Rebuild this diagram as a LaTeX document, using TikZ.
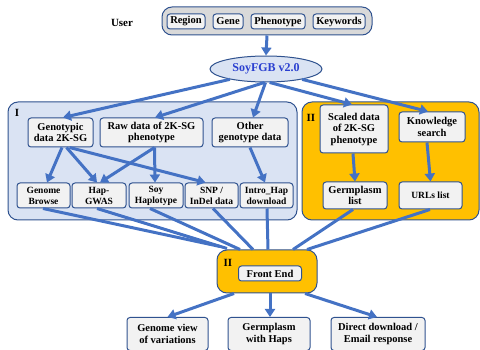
\documentclass[tikz,border=0pt]{standalone}
\usepackage{fontspec}
\setmainfont{Liberation Serif}
\usetikzlibrary{arrows.meta,shapes.geometric}
\definecolor{lblue}{HTML}{4472C4}
\definecolor{dblue}{HTML}{2F528F}
\definecolor{cfill}{HTML}{DAE3F3}
\definecolor{ofill}{HTML}{FFC000}
\definecolor{bfill}{HTML}{F2F2F2}
\definecolor{gfill}{HTML}{D9D9D9}
\definecolor{soyblue}{HTML}{2A3FD0}
\tikzset{
  container/.style={draw=dblue, line width=1pt, rounded corners=10pt, inner sep=0pt},
  box/.style={draw=dblue, fill=bfill, line width=1pt, rounded corners=3pt, align=center, inner sep=0pt,
    font=\fontsize{10.5}{11.5}\selectfont\bfseries},
  smallbox/.style={box, font=\fontsize{9.5}{11}\selectfont\bfseries},
  conn/.style={draw=lblue, line width=3pt},
  arr/.style={conn, -{Triangle[length=8pt,width=10pt]}},
  lbl/.style={inner sep=0pt, font=\fontsize{11}{12}\selectfont\bfseries}
}
\begin{document}
\begin{tikzpicture}[x=1pt,y=-1pt]
\useasboundingbox (0,0) rectangle (480,350);

% containers
\node[container, fill=gfill, minimum width=210, minimum height=28] (panel) at (267,21) {};
\node[container, fill=cfill, minimum width=289, minimum height=118] (contI) at (152.5,161) {};
\node[container, fill=ofill, minimum width=177, minimum height=118] (contII) at (390.5,161) {};
\node[container, fill=ofill, minimum width=100, minimum height=43] (fe) at (267,271.5) {};

% labels
\node[lbl] (user) at (122,23) {User};
\node[lbl] (labI) at (17,113) {I};
\node[lbl] (labII) at (311,118) {II};
\node[lbl] (labIII) at (228,263) {II};

% top boxes
\node[box, minimum width=38, minimum height=15] (region) at (186,21.5) {Region};
\node[box, minimum width=30, minimum height=15] (gene) at (228,21.5) {Gene};
\node[box, minimum width=54, minimum height=15] (pheno) at (278,21.5) {Phenotype};
\node[box, minimum width=52, minimum height=15] (keyw) at (339,21.5) {Keywords};

% ellipse
\node[ellipse, draw=dblue, fill=cfill, line width=1pt, minimum width=112, minimum height=26, inner sep=0pt,
  font=\fontsize{12}{13}\selectfont\bfseries, text=soyblue] (soy) at (266,69) {SoyFGB v2.0};

% group I
\node[box, minimum width=65, minimum height=29] (geno) at (60.5,132.5) {Genotypic\\data 2K-SG};
\node[box, minimum width=103, minimum height=29] (raw) at (151.5,132.5) {Raw data of 2K-SG\\phenotype};
\node[box, minimum width=76, minimum height=29] (other) at (250,132.5) {Other\\genotype data};
\node[smallbox, minimum width=53, minimum height=25] (gb) at (43.5,195.5) {Genome\\Browse};
\node[smallbox, minimum width=54, minimum height=25] (gwas) at (99,195.5) {Hap-\\GWAS};
\node[smallbox, minimum width=54, minimum height=25] (shap) at (156,195.5) {Soy\\Haplotype};
\node[smallbox, minimum width=53, minimum height=25] (snp) at (211.5,195.5) {SNP /\\InDel data};
\node[smallbox, minimum width=53, minimum height=25] (intro) at (266.5,195.5) {Intro\_Hap\\download};

% group II
\node[box, minimum width=68, minimum height=48] (scaled) at (354,129) {Scaled data\\of 2K-SG\\phenotype};
\node[box, minimum width=66, minimum height=30] (know) at (432,127) {Knowledge\\search};
\node[box, minimum width=64, minimum height=27] (gl) at (355,195.5) {Germplasm\\list};
\node[smallbox, minimum width=63, minimum height=27] (urls) at (430.5,195.5) {URLs list};

% front end
\node[box, minimum width=63, minimum height=15] (febox) at (270,273.5) {Front End};

% outputs
\node[box, minimum width=81, minimum height=33] (gv) at (167.5,334) {Genome view\\of variations};
\node[box, minimum width=82, minimum height=33] (gh) at (269,334) {Germplasm\\with Haps};
\node[box, minimum width=94, minimum height=33] (dd) at (378,334) {Direct download /\\Email response};

% connectors
\draw[arr] (panel.south) -- (soy.north);
\draw[arr] (soy.196) -- ([xshift=2.5]geno.north);
\draw[arr] (soy.263) -- ([xshift=3.5]raw.north);
\draw[arr] (soy.268) -- ([xshift=3]other.north);
\draw[arr] (soy.285) -- ([xshift=-2]scaled.north);
\draw[arr] (soy.344) -- ([xshift=-4]know.north);

\draw[arr] ([xshift=1.5]geno.south) -- ([xshift=3.5]gb.north);
\draw[arr] ([xshift=6]geno.south) -- ([xshift=-2]gwas.north);
\draw[arr] ([xshift=9]geno.south) -- ([xshift=-6]snp.north);
\draw[arr] ([xshift=3]raw.south) -- ([xshift=1]gwas.north);
\draw[arr] ([xshift=3]raw.south) -- ([xshift=-1]shap.north);
\draw[arr] ([xshift=0]other.south) -- ([xshift=-1.5]intro.north);

\draw[arr] ([xshift=-1]scaled.south) -- (gl.north);
\draw[arr] ([xshift=-5]know.south) -- (urls.north);

\draw[conn] ([xshift=-0.5]gb.south) -- ([xshift=-47,yshift=3]fe.north);
\draw[conn] ([xshift=-2]gwas.south) -- ([xshift=-40,yshift=1]fe.north);
\draw[conn] ([xshift=-6]shap.south) -- ([xshift=-27]fe.north);
\draw[conn] ([xshift=1.5]snp.south) -- ([xshift=-14]fe.north);
\draw[conn] ([xshift=0.5]intro.south) -- ([xshift=1]fe.north);
\draw[conn] ([xshift=-2]gl.south) -- ([xshift=26]fe.north);
\draw[conn] ([xshift=-0.5]urls.south) -- ([xshift=40]fe.north);

\draw[arr] ([xshift=-33]fe.south) -- (gv.north);
\draw[arr] ([xshift=3]fe.south) -- ([xshift=1]gh.north);
\draw[arr] ([xshift=38]fe.south) -- ([xshift=-1]dd.north);
\end{tikzpicture}
\end{document}
